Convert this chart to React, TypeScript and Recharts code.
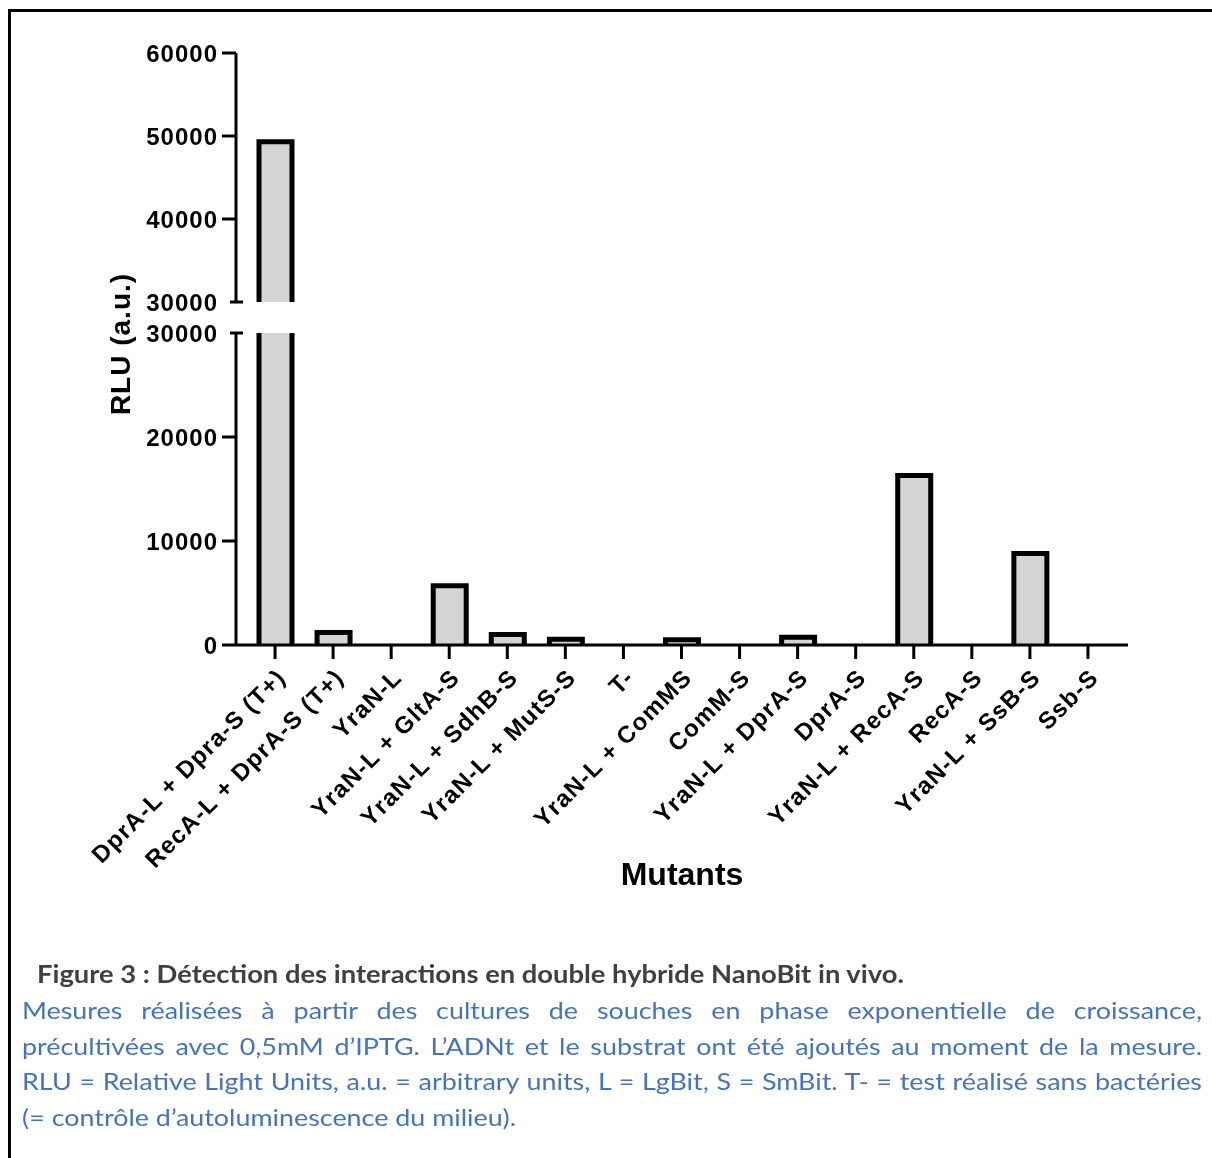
import React from 'react';
import { BarChart, Bar, XAxis, YAxis, Label } from 'recharts';

// values (RLU, a.u.)
const categories = [
  'DprA-L + Dpra-S (T+)',
  'RecA-L + DprA-S (T+)',
  'YraN-L',
  'YraN-L + GltA-S',
  'YraN-L + SdhB-S',
  'YraN-L + MutS-S',
  'T-',
  'YraN-L + ComMS',
  'ComM-S',
  'YraN-L + DprA-S',
  'DprA-S',
  'YraN-L + RecA-S',
  'RecA-S',
  'YraN-L + SsB-S',
  'Ssb-S',
];
const rluValues = [49300, 1200, 0, 5700, 1000, 550, 0, 500, 0, 750, 0, 16300, 0, 8800, 0];

const lowerTicks = [0, 10000, 20000, 30000];
const upperTicks = [30000, 40000, 50000, 60000];
const BREAK_AT = 30000;

const captionTitle = 'Figure 3 : Détection des interactions en double hybride NanoBit in vivo.';
const captionLines = [
  'Mesures réalisées à partir des cultures de souches en phase exponentielle de croissance,',
  'précultivées avec 0,5mM d’IPTG. L’ADNt et le substrat ont été ajoutés au moment de la mesure.',
  'RLU = Relative Light Units, a.u. = arbitrary units, L = LgBit, S = SmBit. T- = test réalisé sans bactéries',
];
const captionLast = '(= contrôle d’autoluminescence du milieu).';

const data = categories.map((name, i) => ({ name, rlu: rluValues[i] }));

const FONT = "'Liberation Sans', Arial, sans-serif";
const CHART_W = 1140;
const AXIS_W = 228;
const MARGIN = { top: 20, right: 20, left: 0, bottom: 0 };
const PAD = { left: 10, right: 11 };
const TITLE_STRETCH = 1.14;
const BODY_STRETCH = 1.12;

// bar with no bottom edge, so the cut at the axis break stays open
const OpenBar = (props: any) => {
  const { x, y, width, height } = props;
  if (!height || Math.abs(height) < 0.5) return null;
  const top = Math.min(y, y + height);
  const bot = Math.max(y, y + height);
  return (
    <g>
      <rect x={x} y={top} width={width} height={bot - top} fill="#d4d4d4" />
      <path
        d={`M${x},${bot} L${x},${top} L${x + width},${top} L${x + width},${bot}`}
        fill="none"
        stroke="#000"
        strokeWidth={5}
      />
    </g>
  );
};

const YTick = (props: any) => {
  const { x, y, payload, breakAt } = props;
  const ax = x + 18;
  const isBreak = payload.value === breakAt;
  return (
    <g>
      <line
        x1={isBreak ? ax - 6 : ax - 14}
        x2={isBreak ? ax + 7 : ax}
        y1={y}
        y2={y}
        stroke="#000"
        strokeWidth={3}
      />
      <text
        x={x}
        y={y}
        dy="0.355em"
        textAnchor="end"
        fontFamily={FONT}
        fontWeight="bold"
        fontSize={24}
        letterSpacing={1}
        fill="#000"
      >
        {payload.value}
      </text>
    </g>
  );
};

const XTick = (props: any) => {
  const { x, y, payload } = props;
  return (
    <g transform={`translate(${x + 12},${y + 18})`}>
      <text
        textAnchor="end"
        transform="rotate(-45)"
        fontFamily={FONT}
        fontWeight="bold"
        fontSize={24}
        letterSpacing={1.2}
        fill="#000"
      >
        {payload.value}
      </text>
    </g>
  );
};

const axisStyle = { stroke: '#000', strokeWidth: 3 };

const captionBase: React.CSSProperties = {
  position: 'absolute',
  fontFamily: 'Lato, sans-serif',
  fontSize: 24,
  lineHeight: '28px',
  whiteSpace: 'nowrap',
  transformOrigin: '0 0',
};

export default function App() {
  return (
    <div style={{ position: 'relative', width: 1196, height: 1142, fontFamily: FONT }}>
      <div
        style={{
          position: 'fixed',
          left: 8,
          top: 9,
          width: 1204,
          height: 1149,
          borderTop: '3px solid #000',
          borderLeft: '3px solid #000',
          boxSizing: 'border-box',
        }}
      />

      {/* upper segment of the broken axis */}
      <div style={{ position: 'absolute', left: 0, top: 25 }}>
        <BarChart width={CHART_W} height={289} data={data} margin={{ ...MARGIN, bottom: 20 }}>
          <XAxis dataKey="name" hide padding={PAD} />
          <YAxis
            type="number"
            domain={[30000, 60000]}
            ticks={upperTicks}
            allowDataOverflow
            interval={0}
            width={AXIS_W}
            tickSize={14}
            tickMargin={4}
            tickLine={false}
            axisLine={axisStyle}
            tick={<YTick breakAt={BREAK_AT} />}
          />
          <Bar
            dataKey={(d: any) => (d.rlu > BREAK_AT ? d.rlu : null)}
            barSize={33}
            shape={OpenBar}
            isAnimationActive={false}
          />
        </BarChart>
      </div>

      {/* lower segment */}
      <div style={{ position: 'absolute', left: 0, top: 305 }}>
        <BarChart width={CHART_W} height={582} data={data} margin={MARGIN}>
          <XAxis
            dataKey="name"
            interval={0}
            padding={PAD}
            height={250}
            tickSize={14}
            tickMargin={2}
            tickLine={axisStyle}
            axisLine={axisStyle}
            tick={<XTick />}
          >
            <Label
              value="Mutants"
              position="insideBottom"
              offset={10}
              style={{ fontFamily: FONT, fontWeight: 'bold', fontSize: 32, fill: '#000' }}
            />
          </XAxis>
          <YAxis
            type="number"
            domain={[0, 30000]}
            ticks={lowerTicks}
            allowDataOverflow
            interval={0}
            width={AXIS_W}
            tickSize={14}
            tickMargin={4}
            tickLine={false}
            axisLine={axisStyle}
            tick={<YTick breakAt={BREAK_AT} />}
          />
          <Bar dataKey="rlu" barSize={33} shape={OpenBar} isAnimationActive={false} />
        </BarChart>
      </div>

      {/* shared y-axis title */}
      <svg style={{ position: 'absolute', left: 90, top: 240 }} width={46} height={200}>
        <text
          transform="translate(32,96) rotate(-90)"
          textAnchor="middle"
          fontFamily={FONT}
          fontWeight="bold"
          fontSize={28}
          letterSpacing={1}
          fill="#000"
        >
          RLU (a.u.)
        </text>
      </svg>

      {/* caption */}
      <div
        style={{
          ...captionBase,
          left: 29,
          top: 952,
          fontWeight: 'bold',
          color: '#404040',
          transform: `scaleX(${TITLE_STRETCH})`,
        }}
      >
        {captionTitle}
      </div>
      {captionLines.map((line, i) => (
        <div
          key={i}
          style={{
            ...captionBase,
            left: 14,
            top: 988 + i * 35.5,
            width: 1180 / BODY_STRETCH,
            color: '#4472c4',
            textAlign: 'justify',
            textAlignLast: 'justify',
            transform: `scaleX(${BODY_STRETCH})`,
          }}
        >
          {line}
        </div>
      ))}
      <div
        style={{
          ...captionBase,
          left: 14,
          top: 988 + 3 * 35.5,
          color: '#4472c4',
          transform: `scaleX(${BODY_STRETCH})`,
        }}
      >
        {captionLast}
      </div>
    </div>
  );
}
